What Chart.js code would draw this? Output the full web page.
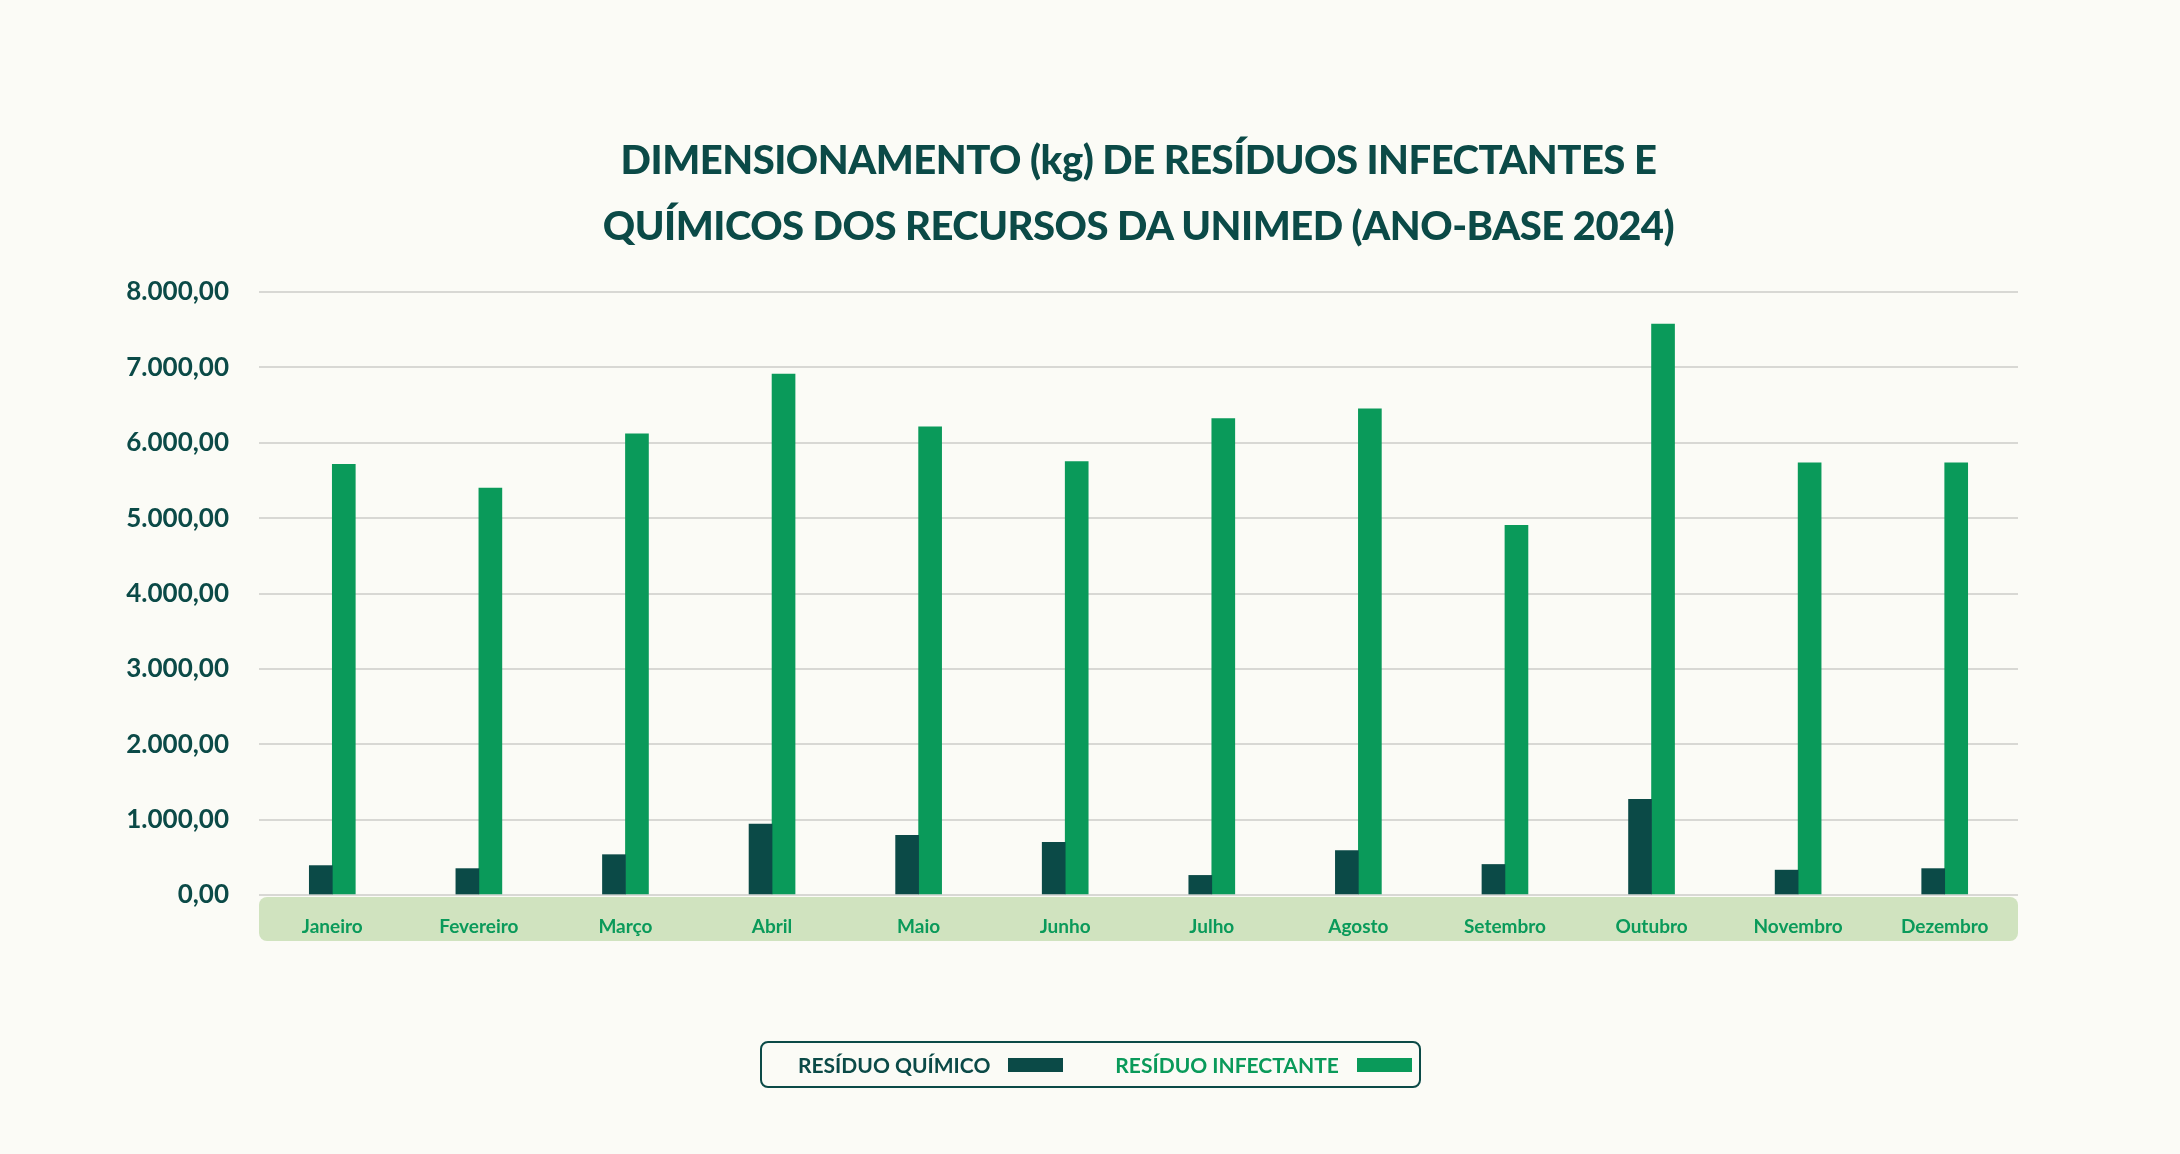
<!DOCTYPE html>
<html>
<head>
<meta charset="utf-8">
<script src="https://cdn.jsdelivr.net/npm/chart.js@4/dist/chart.umd.min.js"></script>
<style>
  body { margin: 0; background: #fbfbf6; font-family: Lato, sans-serif; }
  #wrap { position: relative; width: 2180px; height: 1154px; }
  #chart { position: absolute; left: 0; top: 0; }
  #title { position: absolute; left: 259px; width: 1759px; top: 126px; text-align: center;
    color: #0b4a47; font-weight: 900; font-size: 40px; line-height: 66px; letter-spacing: -0.5px; }
  #legend { position: absolute; left: 760px; top: 1041px; width: 657px; height: 43px;
    border: 2px solid #0b4a47; border-radius: 8px; display: flex; align-items: center;
    font-weight: 700; font-size: 21px; }
  .sw { display: inline-block; width: 55px; height: 14px; margin-left: 18px; }
</style>
</head>
<body>
<div id="wrap">
  <canvas id="chart" width="2180" height="1154"></canvas>
  <div id="title">DIMENSIONAMENTO (kg) DE RESÍDUOS INFECTANTES E<br>QUÍMICOS DOS RECURSOS DA UNIMED (ANO-BASE 2024)</div>
  <div id="legend">
    <span style="margin-left:36px;color:#0b4a47">RESÍDUO QUÍMICO</span><span class="sw" style="background:#0b4a47"></span>
    <span style="margin-left:52px;color:#0a9a5a">RESÍDUO INFECTANTE</span><span class="sw" style="background:#0a9a5a"></span>
  </div>
</div>
<script>
const months = ["Janeiro", "Fevereiro", "Março", "Abril", "Maio", "Junho", "Julho", "Agosto", "Setembro", "Outubro", "Novembro", "Dezembro"];
const quimico = [390, 350, 535, 940, 790, 700, 260, 590, 405, 1270, 330, 350];
const infectante = [5714, 5400, 6120, 6912, 6212, 5750, 6322, 6450, 4903, 7576, 5733, 5733];

const band = {
  id: "band",
  beforeDraw(chart) {
    const ctx = chart.ctx, a = chart.chartArea;
    ctx.save();
    ctx.fillStyle = "#d0e3bf";
    ctx.beginPath();
    ctx.roundRect(a.left, a.bottom + 2, a.right - a.left, 44, 8);
    ctx.fill();
    ctx.restore();
  }
};

new Chart(document.getElementById("chart"), {
  type: "bar",
  data: {
    labels: months,
    datasets: [
      { label: "RESÍDUO QUÍMICO", data: quimico, backgroundColor: "#0b4a47", barThickness: 23 },
      { label: "RESÍDUO INFECTANTE", data: infectante, backgroundColor: "#0a9a5a", barThickness: 23 }
    ]
  },
  options: {
    responsive: false,
    animation: false,
    categoryPercentage: 0.38,
    layout: { padding: { left: 0, right: 162, top: 292, bottom: 213 } },
    plugins: { legend: { display: false }, tooltip: { enabled: false } },
    scales: {
      x: {
        grid: { display: false },
        border: { display: false },
        ticks: { color: "#0a9a5a", font: { family: "Lato", size: 19, weight: "bold" }, padding: 12 },
        afterFit(s) { s.height = 46; }
      },
      y: {
        min: 0, max: 8000,
        ticks: {
          stepSize: 1000, padding: 30, color: "#0b4a47",
          font: { family: "Lato", size: 26, weight: "bold" },
          callback: v => v.toLocaleString("pt-BR", { minimumFractionDigits: 2, maximumFractionDigits: 2 })
        },
        grid: { color: "#d8d8d4", lineWidth: 2, drawTicks: false },
        border: { display: false },
        afterFit(s) { s.width = 259; }
      }
    }
  },
  plugins: [band]
});
</script>
</body>
</html>
